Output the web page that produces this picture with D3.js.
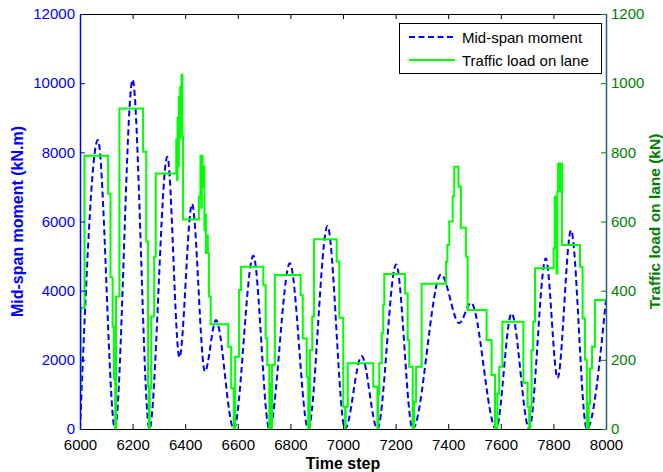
<!DOCTYPE html>
<html>
<head>
<meta charset="utf-8">
<script src="https://cdn.jsdelivr.net/npm/d3@7"></script>
<style>
  html, body { margin: 0; padding: 0; background: #ffffff; }
  svg { display: block; font-family: "Liberation Sans", Arial, sans-serif; }
</style>
</head>
<body>
<svg id="chart" width="663" height="472"></svg>
<script>
// ---- Data ----
const xTicks = [6000, 6200, 6400, 6600, 6800, 7000, 7200, 7400, 7600, 7800, 8000];
const leftTicks = [0, 2000, 4000, 6000, 8000, 10000, 12000];
const rightTicks = [0, 200, 400, 600, 800, 1000, 1200];

// Mid-span moment (kN.m): key points (peaks / troughs)
const momentT = [6000, 6068, 6133, 6200, 6264, 6332, 6378, 6426, 6475, 6517, 6585, 6659, 6720, 6798, 6868, 6941, 7008, 7071, 7131, 7202, 7265, 7373, 7442, 7487, 7582, 7641, 7708, 7771, 7816, 7867, 7927, 8000];
const momentV = [0, 8358, 0, 10100, 0, 7875, 2070, 6507, 1660, 3150, 0, 5010, 0, 4790, 0, 5870, 0, 2110, 0, 4760, 0, 4470, 3060, 3650, 0, 3345, 0, 4935, 1470, 5750, 0, 3750];

// Traffic load on lane (kN): step values (value holds from time until next time)
const loadT = [6000, 6002, 6017, 6107, 6116, 6124, 6129, 6134, 6137, 6150, 6240, 6252, 6259, 6262, 6265, 6271, 6282, 6288,
  6366, 6369, 6371, 6374, 6376, 6379, 6381, 6384, 6386, 6389, 6392, 6452, 6458, 6461, 6463, 6466, 6470, 6473, 6476, 6479, 6483, 6486, 6490, 6497,
  6564, 6575, 6585, 6590, 6605, 6612, 6697, 6706, 6712, 6720, 6723, 6726, 6730, 6741, 6839, 6847, 6862, 6868, 6874, 6883, 6890,
  6976, 6986, 7001, 7008, 7010, 7018, 7115, 7131, 7134, 7138, 7147, 7153, 7157, 7236, 7246, 7252, 7265, 7270, 7278, 7299,
  7392, 7397, 7404, 7417, 7423, 7439, 7448, 7468, 7474, 7546, 7565, 7578, 7587, 7594, 7606, 7686, 7702, 7708, 7711, 7717, 7723, 7730,
  7801, 7805, 7812, 7815, 7818, 7822, 7826, 7833, 7901, 7911, 7920, 7927, 7934, 7939, 7947, 7958, 8000];
const loadV = [113, 350, 790, 680, 438, 296, 145, 0, 383, 927, 802, 542, 122, 0, 118, 325, 498, 739,
  838, 720, 900, 760, 961, 840, 990, 880, 1024, 845, 606, 672, 790, 640, 790, 700, 760, 575, 620, 509, 560, 509, 383, 303,
  238, 118, 0, 209, 402, 469, 416, 262, 185, 0, 130, 0, 185, 445, 387, 262, 151, 0, 228, 325, 549,
  484, 322, 64, 0, 64, 190, 122, 0, 100, 190, 277, 359, 448, 392, 257, 180, 0, 79, 180, 420,
  484, 532, 600, 672, 758, 701, 582, 498, 344, 257, 156, 0, 103, 180, 310, 134, 64, 0, 64, 228, 310, 465,
  523, 672, 450, 686, 768, 686, 768, 532, 469, 320, 200, 0, 74, 175, 238, 373, 373];

const seriesNames = ["Mid-span moment", "Traffic load on lane"];

// ---- Layout ----
const svg = d3.select("#chart");
const L = 80, R = 606, T = 14, B = 429;
const blue = "#0000ff", green = "#00ff00", dkGreen = "#008000";

const x = d3.scaleLinear().domain([6000, 8000]).range([L, R]);
const yL = d3.scaleLinear().domain([0, 12000]).range([B, T]);
const yR = d3.scaleLinear().domain([0, 1200]).range([B, T]);

const moment = momentT.map((t, i) => ({ t, v: momentV[i] }));
const load = loadT.map((t, i) => ({ t, v: loadV[i] }));

svg.append("clipPath").attr("id", "plotclip")
  .append("rect").attr("x", L).attr("y", T).attr("width", R - L).attr("height", B - T);

const plot = svg.append("g").attr("clip-path", "url(#plotclip)");

plot.append("path")
  .datum(moment)
  .attr("fill", "none")
  .attr("stroke", blue)
  .attr("stroke-width", 2)
  .attr("stroke-dasharray", "6,3.5")
  .attr("d", d3.line().x(d => x(d.t)).y(d => yL(d.v)).curve(d3.curveMonotoneX));

plot.append("path")
  .datum(load)
  .attr("fill", "none")
  .attr("stroke", green)
  .attr("stroke-width", 2)
  .attr("d", d3.line().x(d => x(d.t)).y(d => yR(d.v)).curve(d3.curveStepAfter));

// ---- Axes (MATLAB style, inward ticks) ----
const tickLen = 5;
const fam = "Liberation Sans, Arial, sans-serif";
// bottom axis
const gB = svg.append("g").attr("transform", `translate(0,${B})`)
  .call(d3.axisBottom(x).tickValues(xTicks).tickFormat(d3.format("d")).tickSizeInner(-tickLen).tickSizeOuter(0).tickPadding(10));
gB.select(".domain").attr("stroke", "#000").attr("stroke-width", 1);
gB.selectAll(".tick line").attr("stroke", "#000");
gB.selectAll(".tick text").attr("fill", "#000").attr("font-size", 15).attr("font-family", fam);

// top axis (ticks only)
const gT = svg.append("g").attr("transform", `translate(0,${T})`)
  .call(d3.axisTop(x).tickValues(xTicks).tickFormat("").tickSizeInner(-tickLen).tickSizeOuter(0));
gT.select(".domain").attr("stroke", "#000").attr("stroke-width", 1);
gT.selectAll(".tick line").attr("stroke", "#000");

// left axis
const gL = svg.append("g").attr("transform", `translate(${L},0)`)
  .call(d3.axisLeft(yL).tickValues(leftTicks).tickFormat(d3.format("d")).tickSizeInner(-tickLen).tickSizeOuter(0).tickPadding(5));
gL.select(".domain").attr("stroke", blue).attr("stroke-width", 1.5);
gL.selectAll(".tick line").attr("stroke", blue);
gL.selectAll(".tick text").attr("fill", blue).attr("font-size", 15).attr("font-family", fam);

// right axis
const gR = svg.append("g").attr("transform", `translate(${R},0)`)
  .call(d3.axisRight(yR).tickValues(rightTicks).tickFormat(d3.format("d")).tickSizeInner(-tickLen).tickSizeOuter(0).tickPadding(5));
gR.select(".domain").attr("stroke", "#285c80").attr("stroke-width", 1.5);
gR.selectAll(".tick line").attr("stroke", dkGreen);
gR.selectAll(".tick text").attr("fill", dkGreen).attr("font-size", 15).attr("font-family", fam);

// ---- Axis titles ----
svg.append("text")
  .attr("x", (L + R) / 2).attr("y", 469)
  .attr("text-anchor", "middle").attr("font-size", 16).attr("font-weight", "bold").attr("fill", "#000")
  .text("Time step");

svg.append("text")
  .attr("transform", `translate(23,${(T + B) / 2}) rotate(-90)`)
  .attr("text-anchor", "middle").attr("font-size", 16).attr("font-weight", "bold").attr("fill", blue)
  .text("Mid-span moment (kN.m)");

svg.append("text")
  .attr("transform", `translate(660,${(T + B) / 2}) rotate(-90)`)
  .attr("text-anchor", "middle").attr("font-size", 15.5).attr("font-weight", "bold").attr("fill", dkGreen)
  .text("Traffic load on lane (kN)");

// ---- Legend ----
const lg = svg.append("g");
lg.append("rect").attr("x", 399.5).attr("y", 23.5).attr("width", 202).attr("height", 50)
  .attr("fill", "#fff").attr("stroke", "#000").attr("stroke-width", 1);
const legendItems = [
  { name: seriesNames[0], color: blue, dash: "6,3.5", y: 37 },
  { name: seriesNames[1], color: green, dash: null, y: 60 }
];
legendItems.forEach(it => {
  lg.append("line").attr("x1", 409).attr("x2", 455).attr("y1", it.y).attr("y2", it.y)
    .attr("stroke", it.color).attr("stroke-width", 2).attr("stroke-dasharray", it.dash);
  lg.append("text").attr("x", 462).attr("y", it.y + 6)
    .attr("font-size", 15).attr("fill", "#000").text(it.name);
});
</script>
</body>
</html>
